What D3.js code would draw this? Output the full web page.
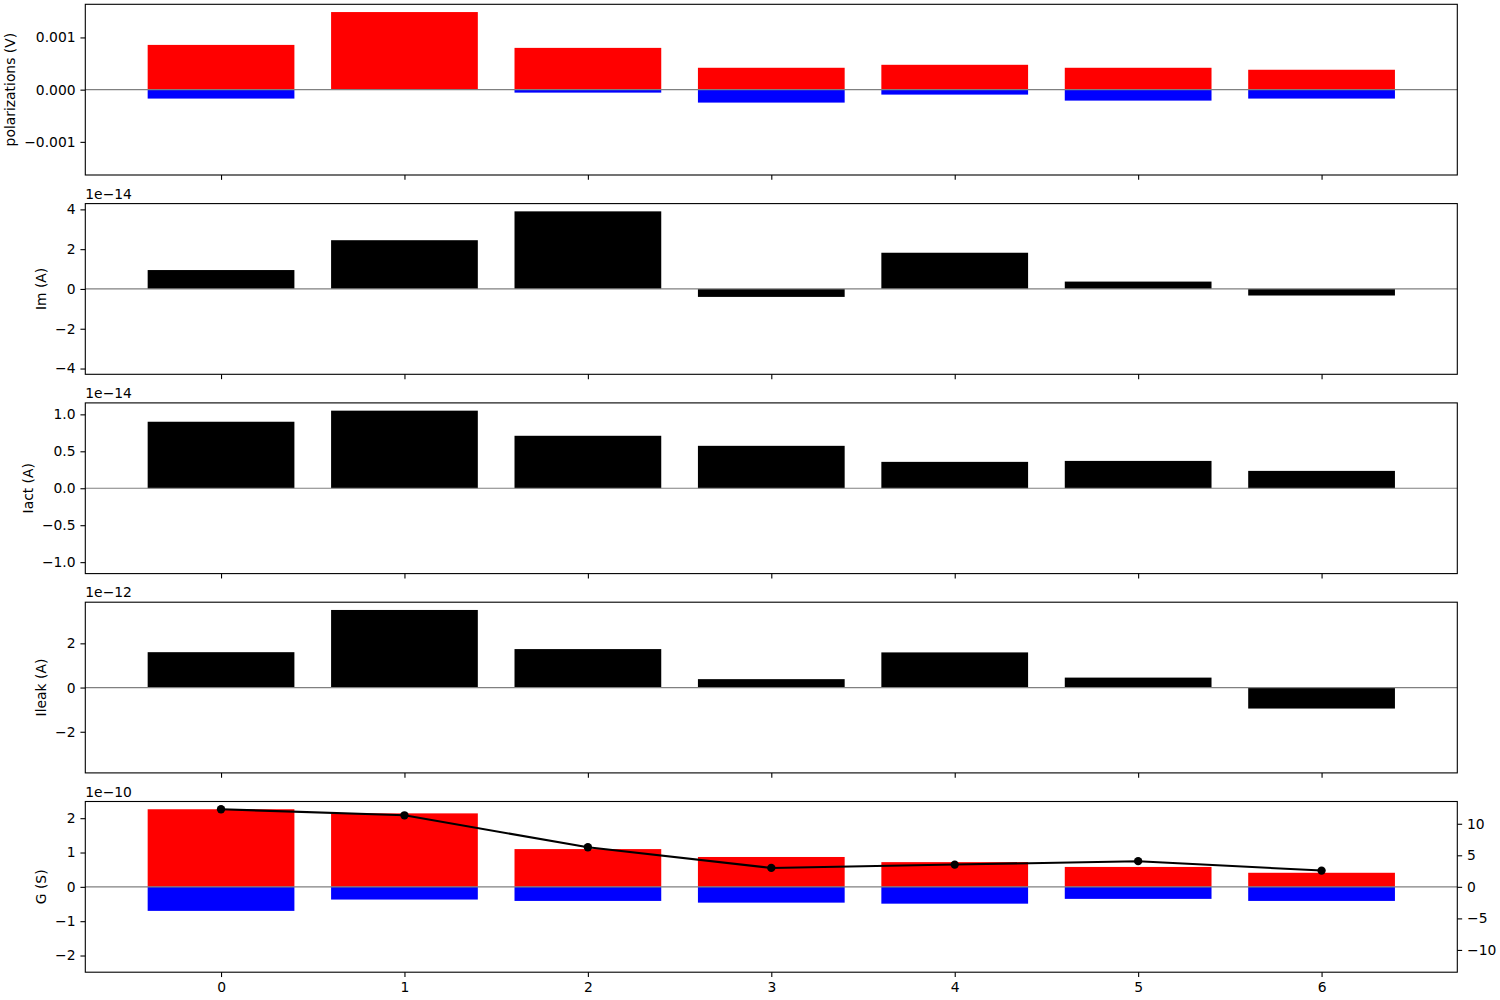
<!DOCTYPE html>
<html>
<head>
<meta charset="utf-8">
<script src="https://cdn.jsdelivr.net/npm/d3@7"></script>
<style>
  html, body { margin: 0; padding: 0; background: #fff; }
  svg { display: block; }
  text { font-family: "DejaVu Sans", sans-serif; fill: #000; }
</style>
</head>
<body>
<svg id="chart" width="1500" height="1000"></svg>
<script>
// ---------------- data ----------------
const categories = [0, 1, 2, 3, 4, 5, 6];

const polarizationPositive = [8.57e-4, 1.486e-3, 8.0e-4, 4.19e-4, 4.76e-4, 4.19e-4, 3.81e-4];
const polarizationNegative = [-1.71e-4, 0, -0.57e-4, -2.48e-4, -0.95e-4, -2.10e-4, -1.71e-4];

const imValues    = [0.95e-14, 2.45e-14, 3.9e-14, -0.40e-14, 1.82e-14, 0.37e-14, -0.33e-14];
const iactValues  = [0.90e-14, 1.05e-14, 0.71e-14, 0.574e-14, 0.357e-14, 0.37e-14, 0.235e-14];
const ileakValues = [1.60e-12, 3.51e-12, 1.74e-12, 0.38e-12, 1.59e-12, 0.45e-12, -0.95e-12];

const gPositive = [2.26e-10, 2.14e-10, 1.10e-10, 0.87e-10, 0.72e-10, 0.58e-10, 0.41e-10];
const gNegative = [-0.70e-10, -0.37e-10, -0.41e-10, -0.46e-10, -0.49e-10, -0.35e-10, -0.41e-10];
const gRatio    = [12.3, 11.34, 6.28, 3.0, 3.53, 4.07, 2.58];

const polTicks = [-0.001, 0, 0.001];
const polTickLabels = ["\u22120.001", "0.000", "0.001"];
const imTicks = [-4e-14, -2e-14, 0, 2e-14, 4e-14];
const imTickLabels = ["\u22124", "\u22122", "0", "2", "4"];
const iactTicks = [-1e-14, -0.5e-14, 0, 0.5e-14, 1e-14];
const iactTickLabels = ["\u22121.0", "\u22120.5", "0.0", "0.5", "1.0"];
const ileakTicks = [-2e-12, 0, 2e-12];
const ileakTickLabels = ["\u22122", "0", "2"];
const gTicks = [-2e-10, -1e-10, 0, 1e-10, 2e-10];
const gTickLabels = ["\u22122", "\u22121", "0", "1", "2"];
const ratioTicks = [-10, -5, 0, 5, 10];
const ratioTickLabels = ["\u221210", "\u22125", "0", "5", "10"];
const xTickLabels = ["0", "1", "2", "3", "4", "5", "6"];

const yLabels = ["polarizations (V)", "Im (A)", "Iact (A)", "Ileak (A)", "G (S)"];
const offsetTexts = [null, "1e\u221214", "1e\u221214", "1e\u221212", "1e\u221210"];

// ---------------- layout ----------------
const svg = d3.select("#chart");
const FS = 13.89;
const LEFT = 85.3, RIGHT = 1457.3;
const TOP0 = 4.3, STEP = 199.3, H = 170.7;
const TICK = 4.86, PAD = 4.86;
const barWidth = 0.8;

const x = d3.scaleLinear().domain([-0.74, 6.74]).range([LEFT, RIGHT]);
const bw = x(barWidth) - x(0);

const panels = [
  { series: [{ v: polarizationPositive, c: "#ff0000" }, { v: polarizationNegative, c: "#0000ff" }], ticks: polTicks, labels: polTickLabels },
  { series: [{ v: imValues, c: "#000000" }], ticks: imTicks, labels: imTickLabels },
  { series: [{ v: iactValues, c: "#000000" }], ticks: iactTicks, labels: iactTickLabels },
  { series: [{ v: ileakValues, c: "#000000" }], ticks: ileakTicks, labels: ileakTickLabels },
  { series: [{ v: gPositive, c: "#ff0000" }, { v: gNegative, c: "#0000ff" }], ticks: gTicks, labels: gTickLabels }
];

panels.forEach((p, i) => {
  const top = TOP0 + i * STEP, bottom = top + H;
  const maxAbs = d3.max(p.series.flatMap(s => s.v.map(Math.abs)));
  const y = d3.scaleLinear().domain([-1.1 * maxAbs, 1.1 * maxAbs]).range([bottom, top]);
  const g = svg.append("g");

  p.series.forEach(s => {
    g.append("g").selectAll("rect").data(categories).join("rect")
      .attr("x", d => x(d) - bw / 2)
      .attr("width", bw)
      .attr("y", (d, k) => Math.min(y(0), y(s.v[k])))
      .attr("height", (d, k) => Math.abs(y(s.v[k]) - y(0)))
      .attr("fill", s.c);
  });

  // zero line
  g.append("line")
    .attr("x1", LEFT).attr("x2", RIGHT)
    .attr("y1", y(0)).attr("y2", y(0))
    .attr("stroke", "#808080").attr("stroke-width", 1.2);

  // left axis
  const ya = g.append("g").attr("transform", `translate(${LEFT},0)`)
    .call(d3.axisLeft(y).tickValues(p.ticks).tickSize(TICK).tickPadding(PAD)
      .tickFormat((d, k) => p.labels[k]));
  ya.select(".domain").remove();
  ya.selectAll("line").attr("stroke", "#000").attr("stroke-width", 1.1);
  ya.selectAll("text").style("font-size", FS + "px").style("font-family", "DejaVu Sans");

  // x axis
  const xa = g.append("g").attr("transform", `translate(0,${bottom})`)
    .call(d3.axisBottom(x).tickValues(categories).tickSize(TICK).tickPadding(PAD)
      .tickFormat((d, k) => i === panels.length - 1 ? xTickLabels[k] : ""));
  xa.select(".domain").remove();
  xa.selectAll("line").attr("stroke", "#000").attr("stroke-width", 1.1);
  xa.selectAll("text").style("font-size", FS + "px").style("font-family", "DejaVu Sans");

  // twin axis line in bottom panel
  if (i === panels.length - 1) {
    const rMax = d3.max(gRatio.map(Math.abs));
    const y2 = d3.scaleLinear().domain([-1.1 * rMax, 1.1 * rMax]).range([bottom, top]);
    g.append("path").datum(categories)
      .attr("d", d3.line().x(d => x(d)).y((d, k) => y2(gRatio[k])))
      .attr("fill", "none").attr("stroke", "#000").attr("stroke-width", 2.08)
      .attr("stroke-linejoin", "round");
    g.append("g").selectAll("circle").data(categories).join("circle")
      .attr("cx", d => x(d)).attr("cy", (d, k) => y2(gRatio[k]))
      .attr("r", 4.17).attr("fill", "#000");
    const ra = g.append("g").attr("transform", `translate(${RIGHT},0)`)
      .call(d3.axisRight(y2).tickValues(ratioTicks).tickSize(TICK).tickPadding(PAD)
        .tickFormat((d, k) => ratioTickLabels[k]));
    ra.select(".domain").remove();
    ra.selectAll("line").attr("stroke", "#000").attr("stroke-width", 1.1);
    ra.selectAll("text").style("font-size", FS + "px").style("font-family", "DejaVu Sans");
  }

  // spines
  g.append("rect")
    .attr("x", LEFT).attr("y", top).attr("width", RIGHT - LEFT).attr("height", H)
    .attr("fill", "none").attr("stroke", "#000").attr("stroke-width", 1.1);

  // offset text
  if (offsetTexts[i]) {
    g.append("text").attr("x", LEFT).attr("y", top - 5)
      .style("font-size", FS + "px").text(offsetTexts[i]);
  }

  // y label
  let minX = Infinity;
  ya.selectAll("text").each(function () {
    const b = this.getBBox();
    const m = this.getCTM();
    minX = Math.min(minX, b.x + m.e);
  });
  const lx = minX - 5.56 - 3.3;
  g.append("text")
    .attr("transform", `translate(${lx},${(top + bottom) / 2}) rotate(-90)`)
    .attr("text-anchor", "middle")
    .style("font-size", FS + "px")
    .text(yLabels[i]);
});
</script>
</body>
</html>
